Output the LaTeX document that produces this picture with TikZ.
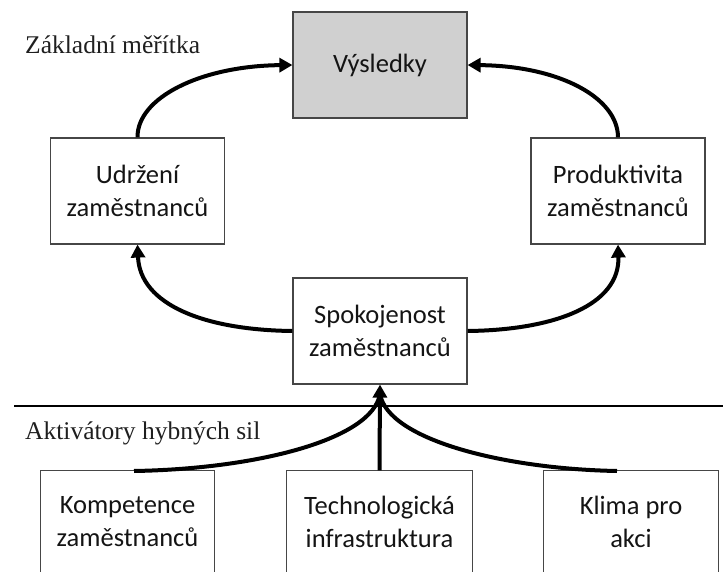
\documentclass[tikz,border=0pt]{standalone}
\usepackage{fontspec}
\setmainfont{Liberation Serif}
\newfontfamily\boxfont{Carlito}
\usetikzlibrary{arrows.meta}
\definecolor{boxgray}{RGB}{208,208,208}
\definecolor{edgegray}{RGB}{70,70,70}
\tikzset{
  box/.style={draw=edgegray, line width=1.2pt, minimum width=174pt, minimum height=106pt,
    align=center, inner sep=0pt, font=\boxfont\fontsize{26.5}{33}\selectfont, text=black!92},
  openbox/.style={box, draw=none},
  label/.style={anchor=west, inner sep=0pt, font=\fontsize{25.5}{30}\selectfont, text=black!88},
  conn/.style={line width=4pt, -{Triangle[length=13pt,width=14pt]}},
  plain/.style={line width=4pt}
}
\begin{document}
\begin{tikzpicture}[x=1pt,y=-1pt]
\useasboundingbox (0,0) rectangle (723,572);
\begin{scope}
\clip (0,0) rectangle (723,572);
% top-level boxes
\node[box, fill=boxgray] (vys) at (380,65) {Výsledky};
\node[box] (udr) at (137.5,191) {Udržení\\zaměstnanců};
\node[box] (pro) at (618,191) {Produktivita\\zaměstnanců};
\node[box] (spo) at (380,331) {Spokojenost\\zaměstnanců};
% bottom boxes (open at bottom, cut by the edge)
\node[openbox, minimum width=173pt, minimum height=101pt] (kom) at (127.5,521.5) {Kompetence\\zaměstnanců};
\node[openbox, minimum width=185pt, minimum height=101pt] (tec) at (379.5,521.5) {Technologická\\infrastruktura};
\node[openbox, minimum width=174pt, minimum height=101pt] (kli) at (631,521.5) {Klima pro\\akci};
\foreach \n in {kom,tec,kli}{
  \draw[edgegray, line width=1.2pt] ([yshift=-10pt]\n.south west) -- (\n.north west) -- (\n.north east) -- ([yshift=-10pt]\n.south east);
}
\end{scope}
% labels
\node[label] (zak) at (25,45) {Základní měřítka};
\node[label] (akt) at (25,433) {Aktivátory hybných sil};
% divider
\coordinate (divL) at (14,406);
\coordinate (divR) at (723,406);
\draw[line width=2.2pt] (divL) -- (divR);
% cycle arrows
\draw[conn] (udr.north) .. controls (137,98) and (200,66) .. (vys.west);
\draw[conn] (pro.north) .. controls (618,98) and (560,66) .. (vys.east);
\draw[conn] (spo.west) .. controls (205,330) and (140,305) .. (udr.south);
\draw[conn] (spo.east) .. controls (555,330) and (620,305) .. (pro.south);
% driver arrows
\coordinate (komTop) at (134,471);
\coordinate (kliTop) at (617,471);
\coordinate (merge) at (380,394);
\draw[plain] (komTop) .. controls (255,469) and (372,440) .. (merge);
\draw[plain] (kliTop) .. controls (505,469) and (388,440) .. (merge);
\draw[conn] (tec.north) -- (spo.south);
\end{tikzpicture}
\end{document}
